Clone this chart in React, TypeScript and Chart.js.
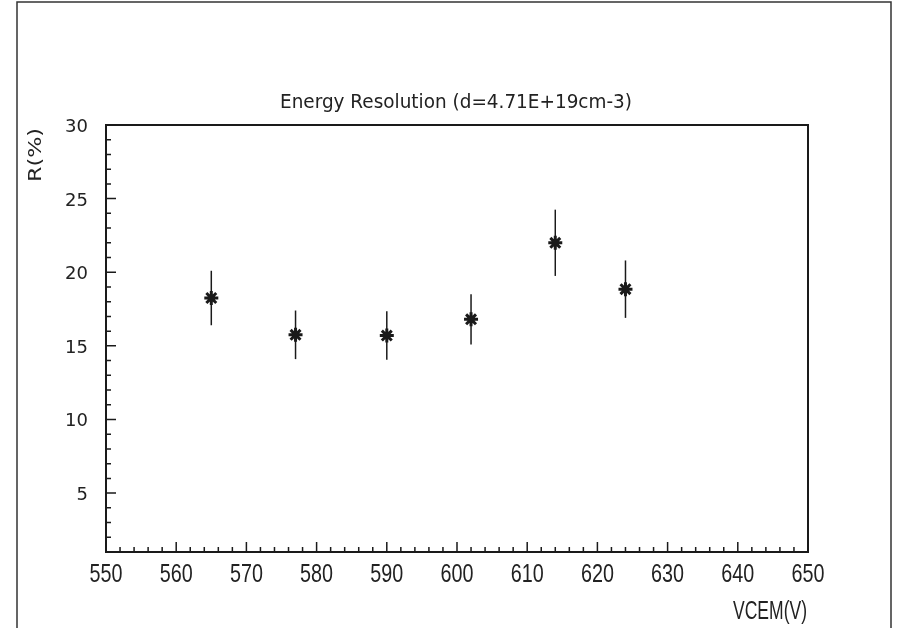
import React, { useEffect, useRef } from "react";
import { Chart, registerables } from "chart.js";

Chart.register(...registerables);

const xValues = [565, 577, 590, 602, 614, 624];
const yValues = [18.25, 15.75, 15.7, 16.8, 22.0, 18.85];
const yErrors = [1.85, 1.65, 1.65, 1.7, 2.25, 1.95];
const xTickValues = [550, 560, 570, 580, 590, 600, 610, 620, 630, 640, 650];
const yTickValues = [5, 10, 15, 20, 25, 30];
const titleText = "Energy Resolution (d=4.71E+19cm-3)";
const xLabel = "VCEM(V)";
const yLabel = "R(%)";

const FONT = "'DejaVu Sans', 'Liberation Sans', sans-serif";
const FONT2 = "'Liberation Sans', Arial, sans-serif";
const INK = "#1a1a1a";

function drawScaled(ctx: any, text: string, x: number, y: number, font: string, sx: number, align: string) {
  ctx.save();
  ctx.font = font;
  ctx.textBaseline = "alphabetic";
  ctx.textAlign = align;
  ctx.translate(x, y);
  ctx.scale(sx, 1);
  ctx.fillText(text, 0, 0);
  ctx.restore();
}

function fitScale(ctx: any, text: string, font: string, width: number) {
  ctx.save();
  ctx.font = font;
  const w = ctx.measureText(text).width;
  ctx.restore();
  return width / w;
}

const decorPlugin = {
  id: "decor",
  beforeDatasetsDraw(chart: any) {
    const ctx = chart.ctx;
    const xs = chart.scales.x;
    const ys = chart.scales.y;
    ctx.save();
    ctx.strokeStyle = INK;
    ctx.lineWidth = 1.5;
    for (let i = 0; i < xValues.length; i++) {
      const px = xs.getPixelForValue(xValues[i]);
      const top = ys.getPixelForValue(yValues[i] + yErrors[i]);
      const bot = ys.getPixelForValue(yValues[i] - yErrors[i]);
      ctx.beginPath();
      ctx.moveTo(px, top);
      ctx.lineTo(px, bot);
      ctx.stroke();
    }
    ctx.restore();
  },
  afterDraw(chart: any) {
    const ctx = chart.ctx;
    const area = chart.chartArea;
    const xs = chart.scales.x;
    const ys = chart.scales.y;
    ctx.save();
    // outer frame
    ctx.strokeStyle = "#333";
    ctx.lineWidth = 1.5;
    ctx.beginPath();
    ctx.moveTo(17, 628);
    ctx.lineTo(17, 2);
    ctx.lineTo(891, 2);
    ctx.lineTo(891, 628);
    ctx.stroke();
    // plot frame
    ctx.strokeStyle = INK;
    ctx.lineWidth = 2;
    ctx.strokeRect(area.left, area.top, area.right - area.left, area.bottom - area.top);
    // ticks
    ctx.lineWidth = 1.5;
    ctx.beginPath();
    for (let v = xs.min; v <= xs.max; v += 2) {
      const px = xs.getPixelForValue(v);
      const major = v % 10 === 0;
      const len = major ? 10 : 5;
      ctx.moveTo(px, area.bottom);
      ctx.lineTo(px, area.bottom - len);
    }
    for (let v = 2; v <= ys.max; v += 1) {
      const py = ys.getPixelForValue(v);
      const major = v % 5 === 0;
      const len = major ? 10 : 5;
      ctx.moveTo(area.left, py);
      ctx.lineTo(area.left + len, py);
    }
    ctx.stroke();
    ctx.fillStyle = "#222";
    // x tick labels
    for (const v of xTickValues) {
      drawScaled(ctx, String(v), xs.getPixelForValue(v), 582, "26px " + FONT2, 0.76, "center");
    }
    // y tick labels
    for (const v of yTickValues) {
      drawScaled(ctx, String(v), 88, ys.getPixelForValue(v) + 7, "18px " + FONT, 1, "right");
    }
    // title
    const tf = "19px " + FONT;
    drawScaled(ctx, titleText, 456, 108, tf, fitScale(ctx, titleText, tf, 352), "center");
    // x label
    const xf = "26px " + FONT2;
    drawScaled(ctx, xLabel, 807, 619, xf, fitScale(ctx, xLabel, xf, 74), "right");
    // y label
    ctx.save();
    ctx.translate(41, 155);
    ctx.rotate(-Math.PI / 2);
    const yf = "18px " + FONT;
    drawScaled(ctx, yLabel, 0, 0, yf, fitScale(ctx, yLabel, yf, 54), "center");
    ctx.restore();
    ctx.restore();
  },
};

export default function App() {
  const ref = useRef<HTMLCanvasElement | null>(null);
  useEffect(() => {
    document.body.style.margin = "0";
    const canvas = ref.current!;
    const chart = new Chart(canvas, {
      type: "scatter",
      data: {
        datasets: [
          {
            data: xValues.map((x, i) => ({ x, y: yValues[i] })),
            pointStyle: "star",
            radius: 7,
            borderWidth: 3,
            borderColor: INK,
            backgroundColor: INK,
          },
        ],
      },
      options: {
        responsive: false,
        animation: false,
        events: [],
        layout: { padding: { left: 0, top: 125, right: 89, bottom: 0 } },
        plugins: { legend: { display: false }, tooltip: { enabled: false } },
        scales: {
          x: {
            type: "linear",
            min: 550,
            max: 650,
            grid: { display: false, drawTicks: false },
            border: { display: false },
            afterBuildTicks: (s: any) => {
              s.ticks = xTickValues.map((v) => ({ value: v }));
            },
            afterFit: (s: any) => {
              s.height = 84;
            },
            ticks: { display: false },
          },
          y: {
            type: "linear",
            min: 1,
            max: 30,
            grid: { display: false, drawTicks: false },
            border: { display: false },
            afterBuildTicks: (s: any) => {
              s.ticks = yTickValues.map((v) => ({ value: v }));
            },
            afterFit: (s: any) => {
              s.width = 106;
            },
            ticks: { display: false },
          },
        },
      },
      plugins: [decorPlugin],
    });
    return () => chart.destroy();
  }, []);
  return <canvas ref={ref} width={897} height={636} style={{ display: "block" }} />;
}
